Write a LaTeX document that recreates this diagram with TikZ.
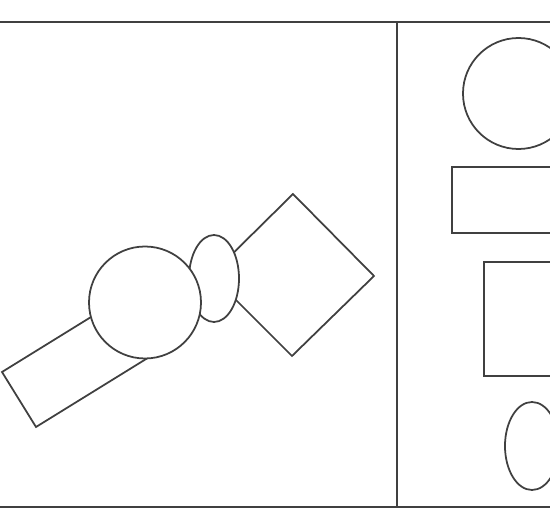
\documentclass[tikz,border=0pt]{standalone}
\usepackage{tikz}

\begin{document}
\begin{tikzpicture}[x=0.01cm, y=-0.01cm, line width=0.5pt, draw=black!75]
                \useasboundingbox (0,0) rectangle (550,518);
                \clip (0,0) rectangle (550,518);

                % Frame
                \draw (0,22) -- (550,22);
                \draw (0,507) -- (550,507);
                \draw (397,22) -- (397,508);

                % Assembled shapes
                \draw[fill=white] (2,372) -- (36,427) -- (172,343) -- (138,288) -- cycle;
                \draw[fill=white] (293,194) -- (374,276) -- (292,356) -- (211,275) -- cycle;
                \draw[fill=white] (214,278.5) ellipse (25 and 43.5);
                \draw[fill=white] (145,302.5) circle (56);

                % Separate shapes
                \draw (518.5,93.5) circle (55.5);
                \draw (560,167) -- (452,167) -- (452,233) -- (560,233);
                \draw (560,262) -- (484,262) -- (484,376) -- (560,376);
                \draw (532,446) ellipse (27 and 44);
            \end{tikzpicture}
\end{document}
